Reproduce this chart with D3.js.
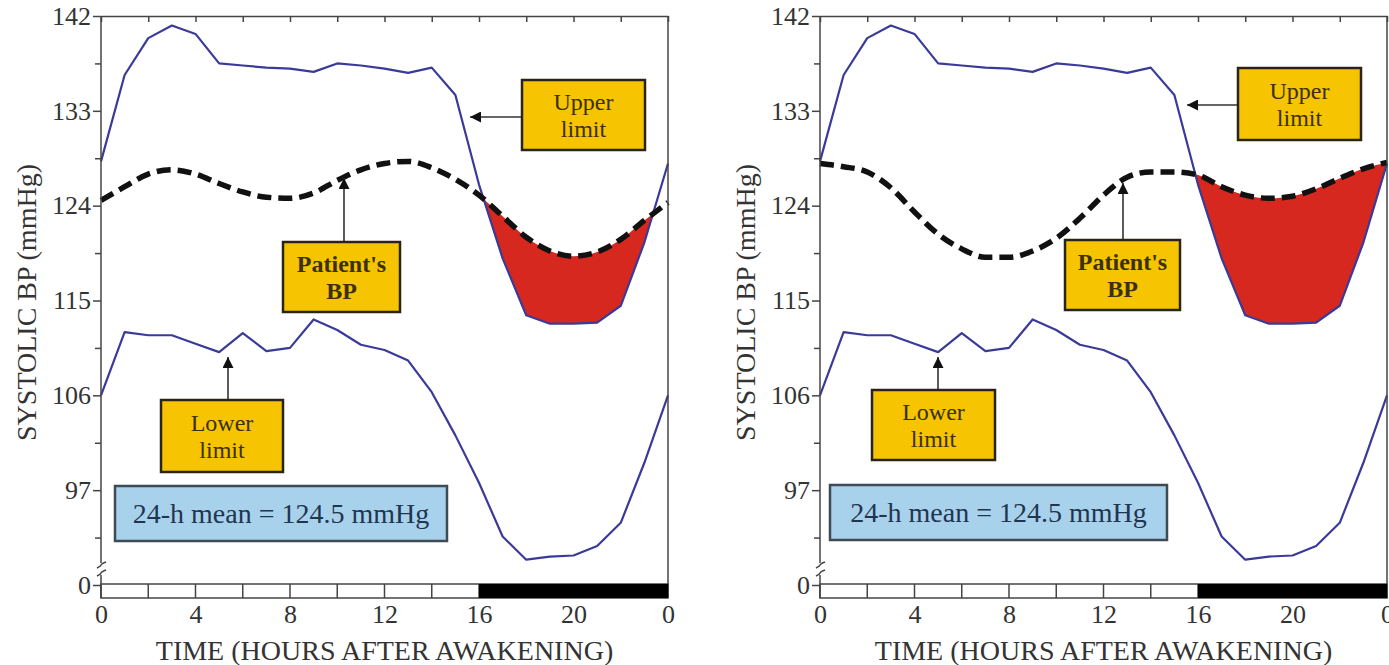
<!DOCTYPE html>
<html>
<head>
<meta charset="utf-8">
<script src="https://cdn.jsdelivr.net/npm/d3@7"></script>
<style>
  html, body { margin: 0; padding: 0; background: #fff; }
  svg { display: block; font-family: "Liberation Serif", "Times New Roman", serif; }
</style>
</head>
<body>
<svg id="chart" width="1389" height="665"></svg>
<script>
// ── Data ─────────────────────────────────────────────────────────────────────
const hours = [0, 1, 2, 3, 4, 5, 6, 7, 8, 9, 10, 11, 12, 13, 14, 15, 16, 17, 18, 19, 20, 21, 22, 23, 24];

const upperLimit = [128.2, 136.4, 139.9, 141.1, 140.3, 137.5, 137.3, 137.1, 137.0, 136.7, 137.5, 137.3,
                    137.0, 136.6, 137.1, 134.5, 126.0, 119.0, 113.6, 112.8, 112.8, 112.9, 114.5, 120.5, 128.0];
const lowerLimit = [106.0, 112.0, 111.7, 111.7, 110.9, 110.1, 111.9, 110.2, 110.5, 113.2, 112.2, 110.8,
                    110.3, 109.3, 106.3, 102.2, 97.7, 92.6, 90.4, 90.7, 90.8, 91.7, 93.9, 99.6, 106.0];

// patient's BP, left and right panels
const patientLeft  = [124.5, 125.8, 127.0, 127.4, 127.0, 126.1, 125.3, 124.8, 124.7, 125.2, 126.4, 127.4,
                      128.0, 128.2, 127.6, 126.5, 125.0, 123.0, 121.0, 119.7, 119.2, 119.6, 120.8, 122.6, 124.3];
const patientRight = [128.0, 127.7, 127.2, 125.7, 123.4, 121.3, 119.9, 119.1, 119.1, 119.7, 120.9, 122.8,
                      125.0, 126.7, 127.2, 127.2, 126.9, 125.8, 125.0, 124.7, 124.9, 125.6, 126.6, 127.5, 128.1];

const xTickValues = [0, 4, 8, 12, 16, 20, 24];
const xTickLabels = ["0", "4", "8", "12", "16", "20", "0"];
const yTickValues = [88, 97, 106, 115, 124, 133, 142];
const yTickLabels = ["0", "97", "106", "115", "124", "133", "142"];
const yMinorValues = [92.5, 101.5, 110.5, 119.5, 128.5, 137.5];
const stripTicks   = [0, 2, 4, 6, 8, 10, 12, 14, 16, 18, 20, 22, 24];
const sleepSpan    = [16, 24];

const meanText    = "24-h mean = 124.5 mmHg";
const xTitle      = "TIME (HOURS AFTER AWAKENING)";
const yTitle      = "SYSTOLIC BP (mmHg)";
const upperText   = ["Upper", "limit"];
const patientText = ["Patient's", "BP"];
const lowerText   = ["Lower", "limit"];

// ── Styles / layout ──────────────────────────────────────────────────────────
const COLOR = {
  limit: "#3a3a98", patient: "#111", excess: "#d6281e",
  box: "#f6c400", boxText: "#3b3006", note: "#a8d1ec", noteText: "#1f3650",
  axis: "#454545", text: "#333"
};
const W = 567, H = 569;           // plot area per panel
const STRIP_H = 14;

// annotation layout, relative to panel origin (px)
const LAYOUT = [
  { ox: 101, oy: 16, patient: patientLeft, id: "a",
    upper:      { box: [421, 64, 123, 70],  arrow: [421, 101, 369, 101] },
    patientBox: { box: [182, 226, 117, 70], arrow: [243, 226, 243, 162] },
    lower:      { box: [60, 384, 122, 72],  arrow: [127, 384, 127, 341] },
    mean:       [14, 470, 332, 55] },
  { ox: 820, oy: 16, patient: patientRight, id: "b",
    upper:      { box: [418, 52, 123, 72],  arrow: [418, 89, 367, 89] },
    patientBox: { box: [245, 224, 115, 70], arrow: [303, 224, 303, 167] },
    lower:      { box: [52, 374, 123, 70],  arrow: [118, 374, 118, 341] },
    mean:       [10, 469, 337, 55] }
];

const svg = d3.select("#chart");
const defs = svg.append("defs");
defs.append("marker")
  .attr("id", "arrow").attr("viewBox", "0 0 10 10")
  .attr("refX", 10).attr("refY", 5)
  .attr("markerUnits", "userSpaceOnUse")
  .attr("markerWidth", 15).attr("markerHeight", 11)
  .attr("orient", "auto")
  .append("path").attr("d", "M0,0 L10,5 L0,10 z").attr("fill", "#111");

const x = d3.scaleLinear().domain([0, 24]).range([0, W]);
const y = d3.scaleLinear().domain([88, 142]).range([H, 0]);

function drawPanel(p) {
  const g = svg.append("g").attr("transform", `translate(${p.ox},${p.oy})`);
  const rows = hours.map((h, i) => ({ h, up: upperLimit[i], lo: lowerLimit[i], bp: p.patient[i] }));

  // red zone: below patient's curve AND above upper-limit curve (in pixels)
  const clipId = `clip-${p.id}`;
  defs.append("clipPath").attr("id", clipId)
    .append("path").datum(rows)
    .attr("d", d3.area().x(d => x(d.h)).y0(H).y1(d => y(d.bp)).curve(d3.curveMonotoneX));
  g.append("path").datum(rows)
    .attr("clip-path", `url(#${clipId})`)
    .attr("fill", COLOR.excess)
    .attr("d", d3.area().x(d => x(d.h)).y0(0).y1(d => y(d.up)));

  const limitLine = key => d3.line().x(d => x(d.h)).y(d => y(d[key]));
  ["up", "lo"].forEach(k => {
    g.append("path").datum(rows)
      .attr("fill", "none").attr("stroke", COLOR.limit)
      .attr("stroke-width", 2.2).attr("stroke-linejoin", "round")
      .attr("d", limitLine(k));
  });

  g.append("path").datum(rows)
    .attr("fill", "none").attr("stroke", COLOR.patient)
    .attr("stroke-width", 5.5).attr("stroke-dasharray", "14,7")
    .attr("d", d3.line().x(d => x(d.h)).y(d => y(d.bp)).curve(d3.curveMonotoneX));

  // frame: top axis with inward ticks, right border
  g.append("g").attr("class", "axis")
    .call(d3.axisTop(x).tickValues(stripTicks).tickSizeInner(-6).tickSizeOuter(0).tickFormat(""));
  g.append("line").attr("x1", W).attr("x2", W).attr("y1", 0).attr("y2", H + STRIP_H - 1)
    .attr("stroke", COLOR.axis).attr("stroke-width", 1.5);

  // left axis (broken between 97 and 0)
  const ya = g.append("g").attr("class", "axis")
    .call(d3.axisLeft(y).tickValues(yTickValues).tickSize(8).tickPadding(2)
      .tickFormat((d, i) => yTickLabels[i]));
  ya.select(".domain").remove();
  const ym = g.append("g").attr("class", "axis")
    .call(d3.axisLeft(y).tickValues(yMinorValues).tickSize(6).tickFormat(""));
  ym.select(".domain").remove();
  const yBreak = y(88) - 17;
  g.append("line").attr("x1", 0).attr("x2", 0).attr("y1", 0).attr("y2", yBreak - 5)
    .attr("stroke", COLOR.axis).attr("stroke-width", 1.5);
  g.append("line").attr("x1", 0).attr("x2", 0).attr("y1", yBreak + 7).attr("y2", H + STRIP_H - 1)
    .attr("stroke", COLOR.axis).attr("stroke-width", 1.5);
  [yBreak - 3, yBreak + 5].forEach(by => {
    g.append("path")
      .attr("d", `M-4,${by + 3} Q0,${by + 1} 0,${by} T5,${by - 3}`)
      .attr("fill", "none").attr("stroke", COLOR.axis).attr("stroke-width", 1.5);
  });

  // time strip with sleep span
  const sy = y(88) - 1;
  g.append("rect").attr("x", 0).attr("y", sy).attr("width", W).attr("height", STRIP_H)
    .attr("fill", "#fff").attr("stroke", COLOR.axis).attr("stroke-width", 1.5);
  g.selectAll(null).data(stripTicks).join("line")
    .attr("x1", d => x(d)).attr("x2", d => x(d))
    .attr("y1", sy).attr("y2", sy + STRIP_H)
    .attr("stroke", COLOR.axis).attr("stroke-width", 1.5);
  g.append("rect")
    .attr("x", x(sleepSpan[0])).attr("y", sy)
    .attr("width", x(sleepSpan[1]) - x(sleepSpan[0])).attr("height", STRIP_H)
    .attr("fill", "#000");

  // x tick labels
  const xa = g.append("g").attr("class", "axis")
    .attr("transform", `translate(0,${sy + STRIP_H})`)
    .call(d3.axisBottom(x).tickValues(xTickValues).tickSize(0).tickPadding(7)
      .tickFormat((d, i) => xTickLabels[i]));
  xa.select(".domain").remove();

  svg.selectAll(".axis line").attr("stroke", COLOR.axis).attr("stroke-width", 1.5);
  svg.selectAll(".axis path").attr("stroke", COLOR.axis).attr("stroke-width", 1.5);
  svg.selectAll(".axis text").attr("fill", COLOR.text)
    .style("font-family", "'Liberation Serif', serif").style("font-size", "26px");

  // titles
  g.append("text")
    .attr("transform", `translate(-75,${H / 2 + 2}) rotate(-90)`)
    .attr("text-anchor", "middle").attr("dy", "0.35em")
    .attr("fill", COLOR.text).style("font-size", "28px")
    .text(yTitle);
  g.append("text")
    .attr("x", W / 2).attr("y", H + 75)
    .attr("text-anchor", "middle")
    .attr("fill", COLOR.text).style("font-size", "28px")
    .text(xTitle);

  // yellow annotation boxes with arrows
  const note = (spec, lines, bold) => {
    const [bx, by, bw, bh] = spec.box;
    const [ax1, ay1, ax2, ay2] = spec.arrow;
    g.append("line").attr("x1", ax1).attr("y1", ay1).attr("x2", ax2).attr("y2", ay2)
      .attr("stroke", "#333").attr("stroke-width", 1.6)
      .attr("marker-end", "url(#arrow)");
    g.append("rect").attr("x", bx).attr("y", by).attr("width", bw).attr("height", bh)
      .attr("fill", COLOR.box).attr("stroke", "#2a2418").attr("stroke-width", 2.5);
    const t = g.append("text").attr("text-anchor", "middle")
      .attr("fill", COLOR.boxText).style("font-size", "24px")
      .style("font-weight", bold ? "bold" : "normal");
    lines.forEach((s, i) => {
      t.append("tspan").attr("x", bx + bw / 2)
        .attr("y", by + bh / 2 + (i - 0.5) * 27 + 8).text(s);
    });
  };
  note(p.upper, upperText, false);
  note(p.patientBox, patientText, true);
  note(p.lower, lowerText, false);

  const [mx, my, mw, mh] = p.mean;
  g.append("rect").attr("x", mx).attr("y", my).attr("width", mw).attr("height", mh)
    .attr("fill", COLOR.note).attr("stroke", "#3f4a55").attr("stroke-width", 2.5);
  g.append("text").attr("x", mx + mw / 2).attr("y", my + mh / 2).attr("dy", "0.35em")
    .attr("text-anchor", "middle").attr("fill", COLOR.noteText).style("font-size", "28px")
    .text(meanText);
}

LAYOUT.forEach(drawPanel);
</script>
</body>
</html>
